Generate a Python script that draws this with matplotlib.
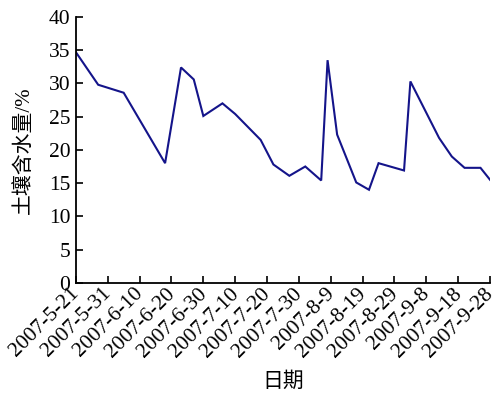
import numpy as np
import matplotlib
matplotlib.use('Agg')
import matplotlib.pyplot as plt
import matplotlib.transforms as mtransforms

plt.rcParams['font.family'] = ['Liberation Serif', 'Noto Sans CJK SC', 'DejaVu Sans']

dates = np.array(['2007-05-21', '2007-05-28', '2007-06-05', '2007-06-18', '2007-06-23',
                  '2007-06-27', '2007-06-30', '2007-07-06', '2007-07-10', '2007-07-18',
                  '2007-07-22', '2007-07-27', '2007-08-01', '2007-08-06', '2007-08-08',
                  '2007-08-11', '2007-08-17', '2007-08-21', '2007-08-24', '2007-09-01',
                  '2007-09-03', '2007-09-12', '2007-09-16', '2007-09-20', '2007-09-25',
                  '2007-09-28'], dtype='datetime64[D]')
moisture = [34.7, 29.8, 28.6, 18.0, 32.4,
            30.6, 25.1, 27.0, 25.4, 21.5,
            17.8, 16.1, 17.5, 15.4, 33.5,
            22.3, 15.1, 14.0, 18.0, 16.9,
            30.3, 21.8, 19.0, 17.3, 17.3,
            15.5]

tick_dates = np.arange(np.datetime64('2007-05-21'), np.datetime64('2007-09-29'),
                       np.timedelta64(10, 'D'))
tick_labels = ['2007-5-21', '2007-5-31', '2007-6-10', '2007-6-20', '2007-6-30',
               '2007-7-10', '2007-7-20', '2007-7-30', '2007-8-9', '2007-8-19',
               '2007-8-29', '2007-9-8', '2007-9-18', '2007-9-28']

fig = plt.figure(figsize=(4.96, 4.04), dpi=100)
ax = fig.add_axes([0.153, 0.30, 0.835, 0.658])

ax.plot(dates, moisture, color='#14148a', lw=1.5, solid_joinstyle='miter')

ax.set_xlim(tick_dates[0], tick_dates[-1])
ax.set_ylim(0, 40)
ax.set_yticks(np.arange(0, 41, 5))
ax.set_xticks(tick_dates)
ax.set_xticklabels(tick_labels, rotation=45, ha='right', rotation_mode='anchor',
                   fontsize=16.5)

ax.spines['top'].set_visible(False)
ax.spines['right'].set_visible(False)
for s in ['left', 'bottom']:
    ax.spines[s].set_linewidth(1.3)
ax.tick_params(direction='in', length=5, width=1.2, labelsize=15.5, pad=4)
ax.tick_params(axis='x', pad=1)

# nudge the date labels a little left so the last one stays on the canvas
# (after tick_params, which would reset the transforms)
shift = mtransforms.ScaledTranslation(-6 / 100, 0, fig.dpi_scale_trans)
for tick in ax.xaxis.get_major_ticks():
    tick.label1.set_transform(tick.label1.get_transform() + shift)

ax.set_ylabel('土壤含水量/%', fontsize=15, labelpad=11, fontweight='light')
ax.set_xlabel('日期', fontsize=15, labelpad=8, fontweight='light')

fig.savefig('out.png', dpi=100)
